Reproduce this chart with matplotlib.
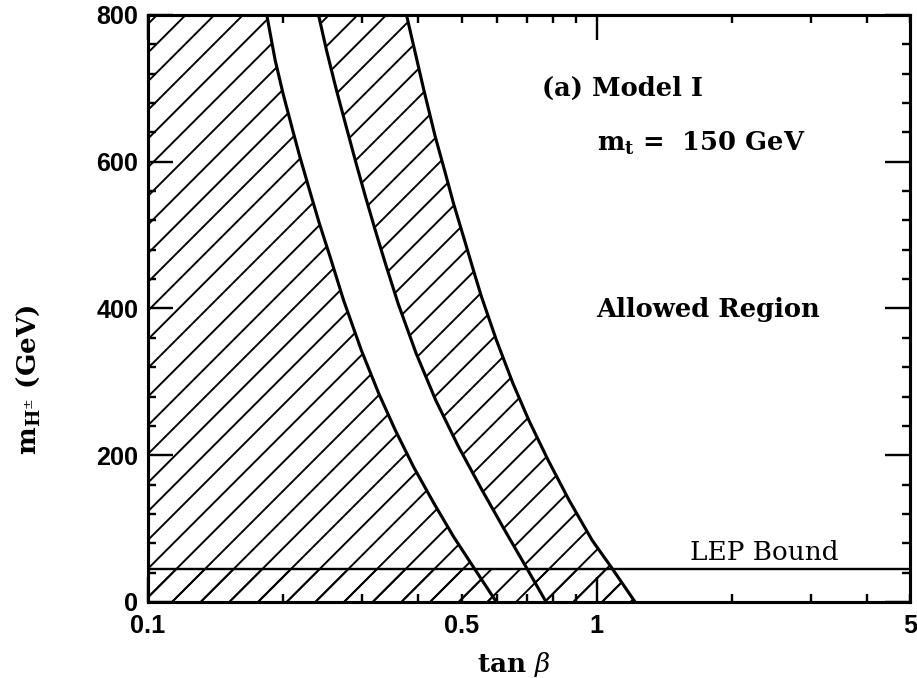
import numpy as np
import matplotlib
matplotlib.use("Agg")
import matplotlib.pyplot as plt

# boundary curves: tan(beta) read at the listed charged-Higgs masses (GeV)
mh_left = [800, 739, 693, 639, 607, 552, 516, 471, 430, 411, 343, 284, 234, 184, 135, 89, 48, 0]
tb_left = [0.184, 0.192, 0.200, 0.211, 0.218, 0.2315, 0.241, 0.2545, 0.267, 0.273,
           0.299, 0.327, 0.356, 0.391, 0.4335, 0.480, 0.531, 0.598]

mh_mid = [800, 752, 698, 648, 598, 552, 507, 462, 407, 339, 275, 212, 153, 98, 48, 0]
tb_mid = [0.240, 0.250, 0.263, 0.2766, 0.291, 0.3055, 0.321, 0.338, 0.361,
          0.396, 0.438, 0.492, 0.555, 0.624, 0.696, 0.772]

mh_right = [800, 761, 698, 634, 589, 543, 498, 448, 416, 357, 298, 248, 194, 139, 84, 48, 0]
tb_right = [0.377, 0.390, 0.412, 0.437, 0.458, 0.480, 0.505, 0.534, 0.554,
            0.598, 0.651, 0.706, 0.779, 0.868, 0.978, 1.077, 1.219]

lep_bound = 45

x_major = [0.1, 1]
x_minor = [0.2, 0.3, 0.4, 0.5, 0.6, 0.7, 0.8, 0.9, 2, 3, 4, 5]
x_minor_labels = ["", "", "", "0.5", "", "", "", "", "", "", "", "5"]

DPI = 172
plt.rcParams["mathtext.fontset"] = "dejavuserif"
plt.rcParams["hatch.linewidth"] = 0.8

fig = plt.figure(figsize=(917 / DPI, 678 / DPI), dpi=DPI)
ax = fig.add_axes([0.1614, 0.1121, 0.831, 0.8658])
ax.set_xscale("log")
ax.set_xlim(0.1, 5)
ax.set_ylim(0, 800)

hatch_kw = dict(facecolor="none", edgecolor="black", hatch="//", linewidth=0)

# excluded region left of the first curve
ax.fill([0.1, 0.1] + tb_left, [0, 800] + mh_left, **hatch_kw)
# excluded band between second and third curves
ax.fill(tb_mid + tb_right[::-1], mh_mid + mh_right[::-1], **hatch_kw)
# below LEP bound, up to the third curve
tb_at_lep = np.interp(lep_bound, mh_right[::-1], tb_right[::-1])
low_x = [0.1, 0.1, tb_at_lep] + [t for t, m in zip(tb_right, mh_right) if m < lep_bound]
low_y = [0, lep_bound, lep_bound] + [m for m in mh_right if m < lep_bound]
ax.fill(low_x, low_y, **hatch_kw)

for tb, mh in [(tb_left, mh_left), (tb_mid, mh_mid), (tb_right, mh_right)]:
    ax.plot(tb, mh, color="black", lw=1.3, solid_joinstyle="round")

ax.axhline(lep_bound, color="black", lw=1.0)

serif = "DejaVu Serif"
ax.text(0.756, 700, "(a) Model I", fontfamily=serif, fontweight="bold", fontsize=10.8, va="center")
ax.text(1.0, 625, r"$\mathbf{m}_\mathbf{t}$ =  150 GeV", fontfamily=serif, fontweight="bold",
        fontsize=10.8, va="center")
ax.text(1.0, 398, "Allowed Region", fontfamily=serif, fontweight="bold", fontsize=10.8, va="center")
ax.text(1.616, 68, "LEP Bound", fontfamily=serif, fontsize=11, va="center")

# ticks
ax.set_xticks(x_major, ["0.1", "1"])
ax.set_xticks(x_minor, x_minor_labels, minor=True)
ax.set_yticks(np.arange(0, 801, 200))
ax.set_yticks(np.arange(0, 801, 40), minor=True)
ax.tick_params(which="both", direction="in", top=True, right=True, width=1.0,
               labelsize=10.5)
ax.tick_params(which="major", length=10.5)
ax.tick_params(which="minor", length=3.3)
ax.tick_params(axis="x", which="both", pad=5)
ax.tick_params(axis="y", which="both", pad=4)
for lab in ax.get_xticklabels(which="both") + ax.get_yticklabels():
    lab.set_fontfamily("Liberation Sans")
    lab.set_fontweight("bold")

for sp in ax.spines.values():
    sp.set_linewidth(1.3)

ax.set_xlabel(r"tan $\beta$", fontfamily=serif, fontweight="bold", fontsize=11)
ax.xaxis.set_label_coords(0.48, -0.082)
ax.set_ylabel(r"$\mathbf{m}_{\mathbf{H}^{\pm}}$ (GeV)", fontfamily=serif, fontweight="bold", fontsize=11)
ax.yaxis.set_label_coords(-0.139, 0.378)

fig.savefig("out.png", dpi=DPI)
